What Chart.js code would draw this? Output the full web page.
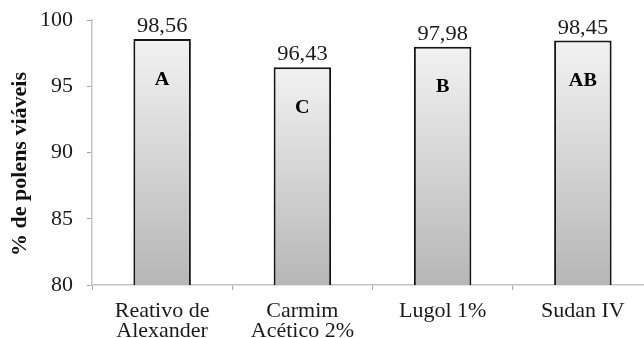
<!DOCTYPE html>
<html>
<head>
<meta charset="utf-8">
<script src="https://cdn.jsdelivr.net/npm/chart.js@4.4.1/dist/chart.umd.min.js"></script>
<style>
  html, body { margin: 0; padding: 0; background: #fff; overflow: hidden; }
  #wrap { position: relative; width: 660px; height: 338px; }
</style>
</head>
<body>
<div id="wrap"><canvas id="c"></canvas></div>
<script>
// Pollen viability by staining method
const categories = [["Reativo de", "Alexander"], ["Carmim", "Acético 2%"], "Lugol 1%", "Sudan IV"];
const viability = [98.56, 96.43, 97.98, 98.45];
const valueLabels = ["98,56", "96,43", "97,98", "98,45"];
const groupLetters = ["A", "C", "B", "AB"];
const yTicks = [80, 85, 90, 95, 100];

const SERIF = "'Liberation Serif', 'Times New Roman', serif";

function barFill(ctx) {
  const chart = ctx.chart;
  const y = chart.scales && chart.scales.y;
  if (!chart.chartArea || !y) return '#d0d0d0';
  const top = y.getPixelForValue(ctx.raw);
  const bottom = y.getPixelForValue(y.min);
  const g = chart.ctx.createLinearGradient(0, top, 0, bottom);
  g.addColorStop(0, '#f2f2f2');
  g.addColorStop(1, '#b6b6b6');
  return g;
}

// Value above each bar, significance letter inside, and the y-axis title
const annotate = {
  id: 'annotate',
  afterDatasetsDraw(chart) {
    const c = chart.ctx;
    const meta = chart.getDatasetMeta(0);
    meta.data.forEach((bar, i) => {
      c.save();
      c.fillStyle = '#1a1a1a';
      c.textAlign = 'center';
      c.textBaseline = 'alphabetic';
      c.font = '20px ' + SERIF;
      c.translate(bar.x, bar.y - 7);
      c.scale(1.12, 1);
      c.fillText(valueLabels[i], 0, 0);
      c.restore();

      c.save();
      c.fillStyle = '#000';
      c.textAlign = 'center';
      c.textBaseline = 'middle';
      c.font = 'bold 18px ' + SERIF;
      c.translate(bar.x, bar.y + 41);
      c.scale(1.12, 1);
      c.fillText(groupLetters[i], 0, 0);
      c.restore();
    });

    c.save();
    c.fillStyle = '#111';
    c.font = 'bold 22px ' + SERIF;
    c.textAlign = 'center';
    c.textBaseline = 'middle';
    c.translate(20, 164);
    c.rotate(-Math.PI / 2);
    c.fillText('% de polens viáveis', 0, 0);
    c.restore();
  }
};

new Chart(document.getElementById('c'), {
  type: 'bar',
  data: {
    labels: categories,
    datasets: [{
      data: viability,
      backgroundColor: barFill,
      borderColor: '#151515',
      borderWidth: 2,
      borderSkipped: false,
      barPercentage: 1,
      categoryPercentage: 0.41
    }]
  },
  options: {
    responsive: true,
    maintainAspectRatio: false,
    animation: false,
    devicePixelRatio: 1,
    layout: { padding: { top: 20, right: 7, left: 0, bottom: 0 } },
    plugins: { legend: { display: false }, tooltip: { enabled: false } },
    scales: {
      x: {
        grid: { display: true, offset: true, drawOnChartArea: false, drawTicks: true, tickLength: 5, color: '#a6a6a6' },
        border: { display: true, color: '#c4c4c4', width: 1.5 },
        ticks: {
          color: '#1a1a1a',
          font: { family: SERIF, size: 22, lineHeight: 0.93 },
          padding: 11,
          maxRotation: 0,
          autoSkip: false
        },
        afterFit(scale) {
          scale.height = 53;
          scale.paddingLeft = 0;
          scale.paddingRight = 0;
        }
      },
      y: {
        min: 80,
        max: 100,
        afterBuildTicks(scale) { scale.ticks = yTicks.map(v => ({ value: v })); },
        grid: { display: true, drawOnChartArea: false, drawTicks: true, tickLength: 5, color: '#a6a6a6' },
        border: { display: true, color: '#c4c4c4', width: 1.5 },
        ticks: {
          color: '#1a1a1a',
          font: { family: SERIF, size: 22 },
          padding: 14
        },
        afterFit(scale) {
          scale.width = 92;
          scale.paddingTop = 0;
          scale.paddingBottom = 0;
        }
      }
    }
  },
  plugins: [annotate]
});
</script>
</body>
</html>
